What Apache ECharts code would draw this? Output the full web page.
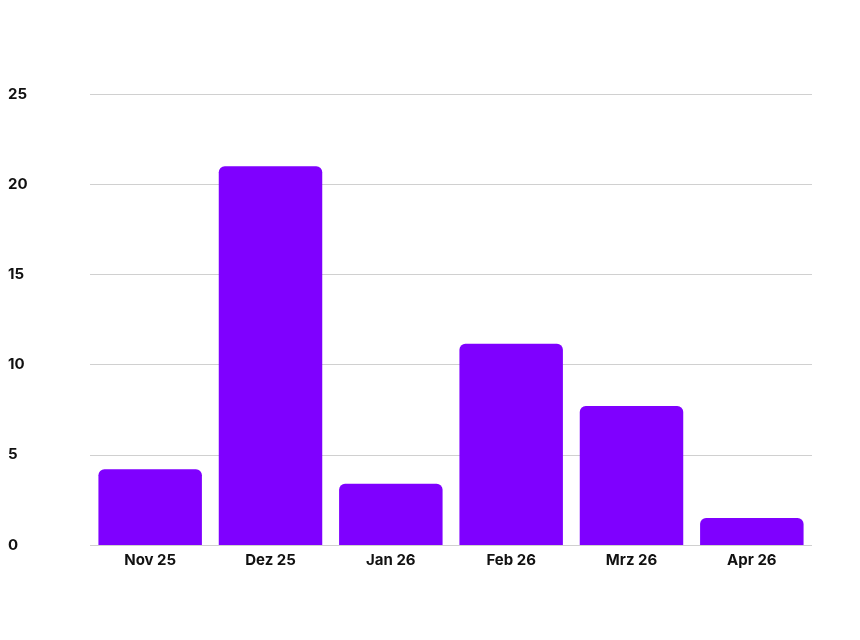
<!DOCTYPE html>
<html>
<head>
<meta charset="utf-8">
<script src="https://cdn.jsdelivr.net/npm/echarts@6/dist/echarts.min.js"></script>
<style>html,body{margin:0;background:#fff}#chart{width:860px;height:640px}</style>
</head>
<body>
<div id="chart"></div>
<script>
// monthly values
const months = ['Nov 25', 'Dez 25', 'Jan 26', 'Feb 26', 'Mrz 26', 'Apr 26'];
const values = [4.2, 21.0, 3.4, 11.15, 7.7, 1.5];

const chart = echarts.init(document.getElementById('chart'));
chart.setOption({
  animation: false,
  grid: { left: 90, right: 48, top: 94, bottom: 95 },
  xAxis: {
    type: 'category',
    data: months,
    axisLine: { show: false },
    axisTick: { show: false },
    axisLabel: { color: '#111', fontWeight: 'bold', fontSize: 15, fontFamily: 'Inter', margin: 8 }
  },
  yAxis: {
    type: 'value',
    min: 0, max: 25, interval: 5,
    axisLabel: { color: '#111', fontWeight: 'bold', fontSize: 15, fontFamily: 'Inter', margin: 14, align: 'left', padding: [0,0,0,-68] },
    splitLine: { lineStyle: { color: '#d0d0d0' } }
  },
  series: [{
    type: 'bar',
    data: values,
    barCategoryGap: '14%',
    itemStyle: { color: '#7f00ff', borderRadius: [6, 6, 0, 0] }
  }]
});
</script>
</body>
</html>
